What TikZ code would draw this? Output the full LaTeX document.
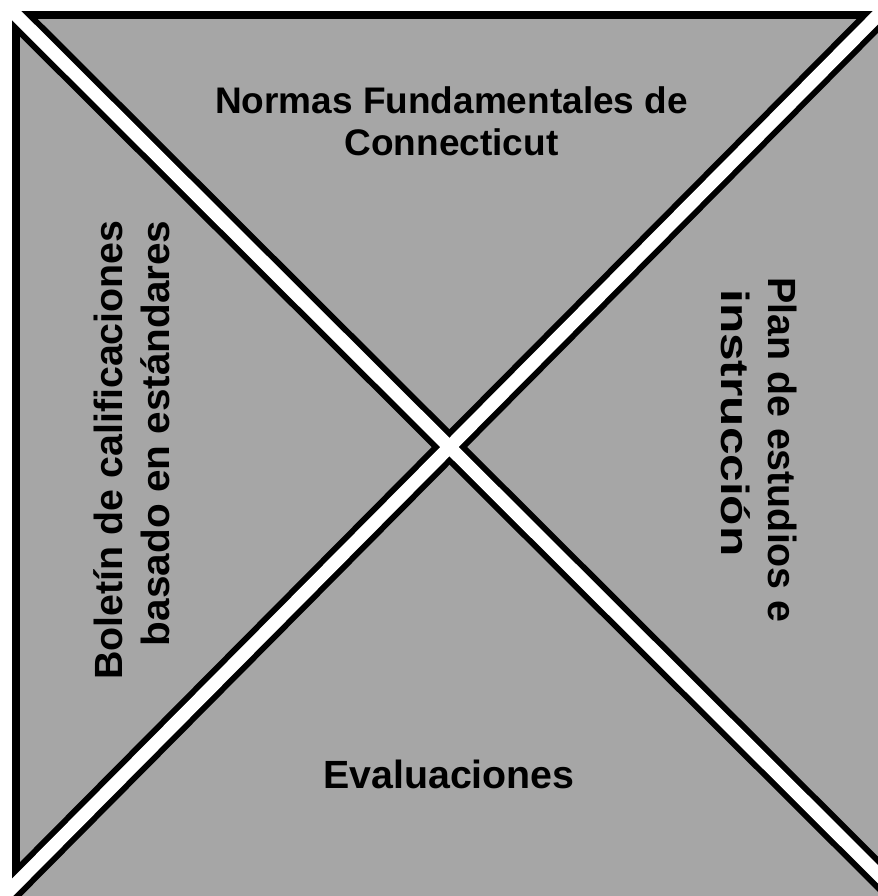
\documentclass[tikz,border=0pt]{standalone}
\usepackage{fontspec}
\usepackage{graphicx}
\setmainfont{Liberation Sans}
\definecolor{panelgray}{HTML}{A6A6A6}
\tikzset{
	paneltext/.style={font=\bfseries\fontsize{29.5}{35}\selectfont, inner sep=0pt},
	divider/.style={line width=18.75pt, black},
	dividergap/.style={line width=9.75pt, white},
	frameline/.style={line width=6pt, black},
}
\begin{document}
\begin{tikzpicture}[x=0.75pt, y=-0.75pt]
		\path[use as bounding box] (0,0) rectangle (878,896);
		\coordinate (tl) at (12,11);
		\coordinate (br) at (940,940);
		\coordinate (d1) at (940,936);
		\coordinate (a1) at (893,0);
		\coordinate (a2) at (0,900);
		\coordinate (ltop) at (16,11);
		\coordinate (lbot) at (16,940);
		\coordinate (tlft) at (12,15);
		\coordinate (trgt) at (940,15);
		%
		\fill[panelgray] (tl) rectangle (br);
		\draw[frameline] (ltop) -- (lbot);
		\draw[frameline] (tlft) -- (trgt);
		\begin{scope}
			\clip (tl) rectangle (br);
			\draw[divider] (tl) -- (d1);
			\draw[divider] (a1) -- (a2);
			\draw[dividergap] (tl) -- (d1);
			\draw[dividergap] (a1) -- (a2);
		\end{scope}
		%
		\node[paneltext, align=center, font=\bfseries\fontsize{27.75}{31.5}\selectfont] (norms) at (451.5,121.5) {Normas Fundamentales de\\Connecticut};
		\node[paneltext] (evals) at (449,774) {Evaluaciones};
		\node[paneltext, align=right, rotate=90] (report) at (132,450) {Boletín de calificaciones\\\scalebox{1.03}[1]{basado en estándares}};
		\node[paneltext, align=left, rotate=-90] (plan) at (759,450) {Plan de estudios e\\\hspace*{9pt}\scalebox{1.26}[1]{instrucción}};
	\end{tikzpicture}
\end{document}
